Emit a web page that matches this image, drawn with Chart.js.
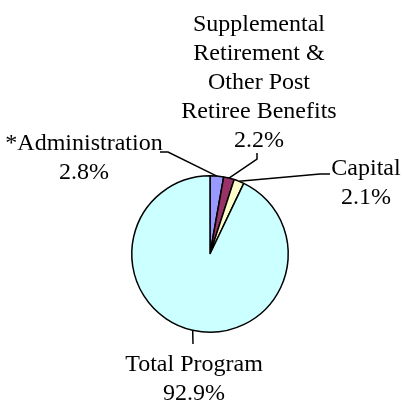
<!DOCTYPE html>
<html>
<head>
<meta charset="utf-8">
<script src="https://cdn.jsdelivr.net/npm/chart.js@4"></script>
<style>
  body { margin: 0; background: #fff; }
  #wrap { width: 402px; height: 402px; }
</style>
</head>
<body>
<div id="wrap"><canvas id="pie-chart" width="402" height="402"></canvas></div>
<script>
const categories = ["*Administration", "Supplemental Retirement & Other Post Retiree Benefits", "Capital", "Total Program"];
const shares = [2.8, 2.2, 2.1, 92.9];
const labelLines = [
  ["*Administration"],
  ["Supplemental", "Retirement &", "Other Post", "Retiree Benefits"],
  ["Capital"],
  ["Total Program"],
];

const SLICE_COLORS = ["#9999FF", "#993366", "#FFFFCC", "#CCFFFF"];

// where each label sits and the bends of its leader line
const labelSpots = [
  { x: 84, y: 150, bends: [[168, 152], [160, 152]] },
  { x: 259, y: 31, bends: [[257, 159], [257, 153]] },
  { x: 366, y: 175, bends: [[320, 174], [330, 174]] },
  { x: 194, y: 371, bends: [[193, 344]] },
];
const LINE_H = 29;

const calloutPlugin = {
  id: "callouts",
  afterDraw(chart) {
    const ctx = chart.ctx;
    const arcs = chart.getDatasetMeta(0).data;
    ctx.save();
    ctx.strokeStyle = "#000";
    ctx.lineWidth = 1.5;
    arcs.forEach((arc, i) => {
      const p = arc.getProps(["x", "y", "startAngle", "endAngle", "outerRadius"], true);
      const mid = (p.startAngle + p.endAngle) / 2;
      const sx = p.x + Math.cos(mid) * p.outerRadius;
      const sy = p.y + Math.sin(mid) * p.outerRadius;
      const spot = labelSpots[i];
      ctx.beginPath();
      ctx.moveTo(sx, sy);
      spot.bends.forEach(b => ctx.lineTo(b[0], b[1]));
      ctx.stroke();

      ctx.fillStyle = "#000";
      ctx.font = "24px 'Liberation Serif'";
      ctx.textAlign = "center";
      ctx.textBaseline = "alphabetic";
      const lines = labelLines[i].concat([shares[i].toFixed(1) + "%"]);
      lines.forEach((t, k) => ctx.fillText(t, spot.x, spot.y + k * LINE_H));
    });
    ctx.restore();
  },
};

const config = {
  type: "pie",
  data: {
    labels: categories,
    datasets: [
      {
        data: shares,
        backgroundColor: SLICE_COLORS,
        borderColor: "#000",
        borderWidth: 1.5,
      },
    ],
  },
  options: {
    responsive: false,
    animation: false,
    layout: { padding: { left: 131, right: 113, top: 175, bottom: 69 } },
    plugins: {
      legend: { display: false },
      tooltip: { enabled: false },
    },
  },
  plugins: [calloutPlugin],
};

var ctx = document.getElementById("pie-chart").getContext("2d");
var myChart = new Chart(ctx, config);
</script>
</body>
</html>
